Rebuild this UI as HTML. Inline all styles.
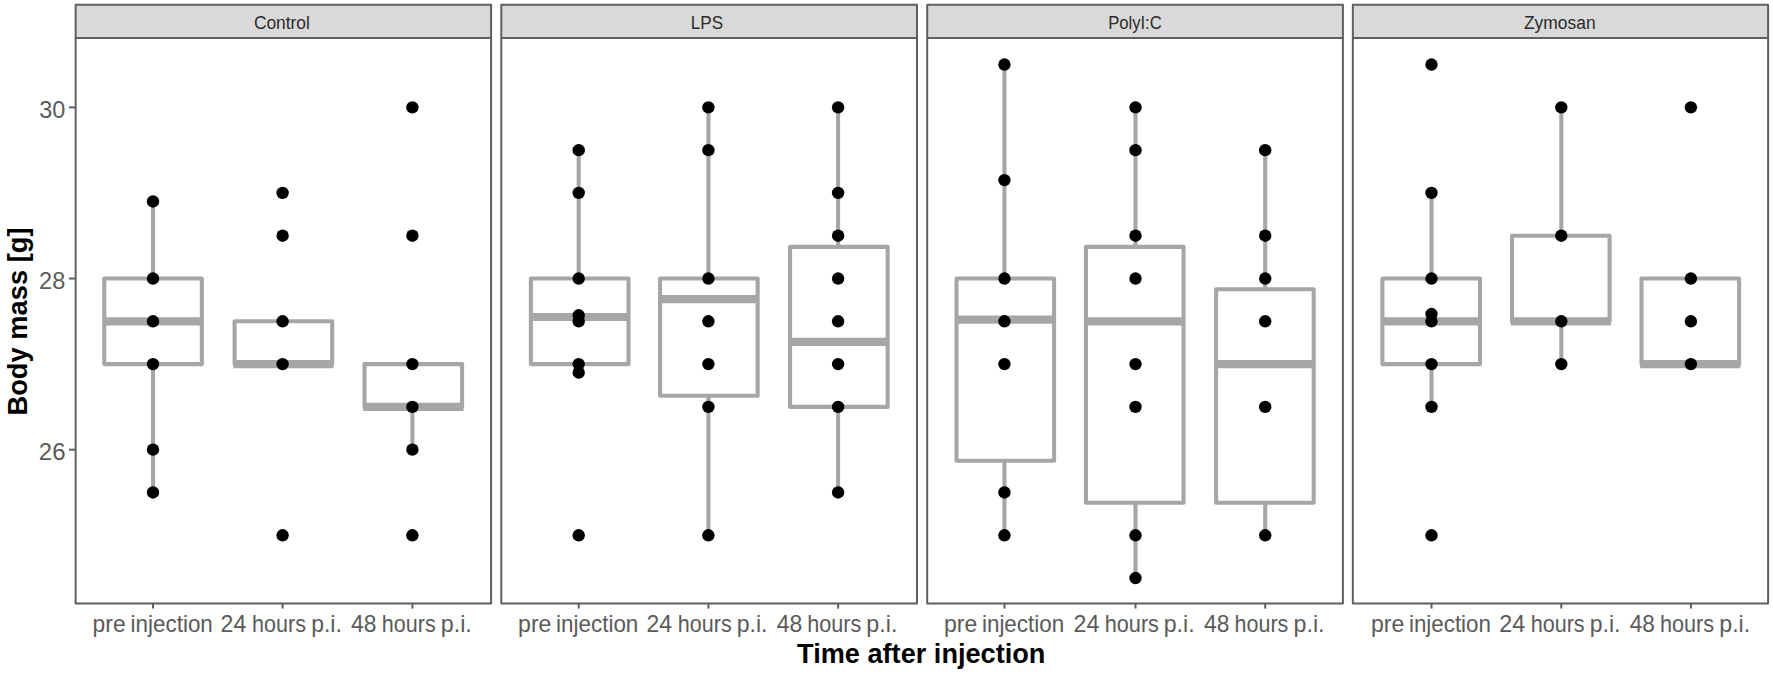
<!DOCTYPE html>
<html><head><meta charset="utf-8"><title>Body mass</title>
<style>html,body{margin:0;padding:0;background:#fff}svg{display:block}</style></head>
<body>
<svg width="1773" height="674" viewBox="0 0 1773 674" font-family="'Liberation Sans', Arial, sans-serif">
<rect width="1773" height="674" fill="#fff"/>
<rect x="75.65" y="4.8" width="415.45" height="33.20" fill="#d9d9d9" stroke="#5f5f5f" stroke-width="2.0" stroke-linejoin="round"/>
<text y="29.30" font-size="17.6" fill="#2b2b2b"><tspan x="253.91" textLength="55.92" lengthAdjust="spacingAndGlyphs">Control</tspan></text>
<line x1="153.00" x2="153.00" y1="201.48" y2="278.51" stroke="#a6a6a6" stroke-width="4.1"/>
<line x1="153.00" x2="153.00" y1="364.09" y2="492.46" stroke="#a6a6a6" stroke-width="4.1"/>
<rect x="104.25" y="278.51" width="97.60" height="85.58" fill="#fff" stroke="#a6a6a6" stroke-width="4.1" stroke-linejoin="round"/>
<line x1="102.95" x2="203.15" y1="321.30" y2="321.30" stroke="#a6a6a6" stroke-width="8.2"/>
<rect x="234.60" y="321.30" width="97.60" height="42.79" fill="#fff" stroke="#a6a6a6" stroke-width="4.1" stroke-linejoin="round"/>
<line x1="233.30" x2="333.50" y1="364.09" y2="364.09" stroke="#a6a6a6" stroke-width="8.2"/>
<line x1="412.40" x2="412.40" y1="406.88" y2="449.67" stroke="#a6a6a6" stroke-width="4.1"/>
<rect x="364.50" y="364.09" width="97.60" height="42.79" fill="#fff" stroke="#a6a6a6" stroke-width="4.1" stroke-linejoin="round"/>
<line x1="363.20" x2="463.40" y1="406.88" y2="406.88" stroke="#a6a6a6" stroke-width="8.2"/>
<circle cx="153.00" cy="201.48" r="6.2" fill="#000"/>
<circle cx="153.00" cy="278.51" r="6.2" fill="#000"/>
<circle cx="153.00" cy="321.30" r="6.2" fill="#000"/>
<circle cx="153.00" cy="364.09" r="6.2" fill="#000"/>
<circle cx="153.00" cy="449.67" r="6.2" fill="#000"/>
<circle cx="153.00" cy="492.46" r="6.2" fill="#000"/>
<circle cx="282.60" cy="192.92" r="6.2" fill="#000"/>
<circle cx="282.60" cy="235.71" r="6.2" fill="#000"/>
<circle cx="282.60" cy="321.30" r="6.2" fill="#000"/>
<circle cx="282.60" cy="364.09" r="6.2" fill="#000"/>
<circle cx="282.60" cy="535.26" r="6.2" fill="#000"/>
<circle cx="412.40" cy="107.34" r="6.2" fill="#000"/>
<circle cx="412.40" cy="235.71" r="6.2" fill="#000"/>
<circle cx="412.40" cy="364.09" r="6.2" fill="#000"/>
<circle cx="412.40" cy="406.88" r="6.2" fill="#000"/>
<circle cx="412.40" cy="449.67" r="6.2" fill="#000"/>
<circle cx="412.40" cy="535.26" r="6.2" fill="#000"/>
<rect x="75.65" y="38.0" width="415.45" height="565.55" fill="none" stroke="#5f5f5f" stroke-width="2.0" stroke-linejoin="round"/>
<line x1="153.00" x2="153.00" y1="603.55" y2="608.55" stroke="#5f5f5f" stroke-width="2.0"/>
<text y="632.40" font-size="24" fill="#5a5a5a"><tspan x="92.62" textLength="32.95" lengthAdjust="spacingAndGlyphs">pre</tspan> <tspan x="130.57" textLength="82.26" lengthAdjust="spacingAndGlyphs">injection</tspan></text>
<line x1="282.60" x2="282.60" y1="603.55" y2="608.55" stroke="#5f5f5f" stroke-width="2.0"/>
<text y="632.40" font-size="24" fill="#5a5a5a"><tspan x="220.58" textLength="25.65" lengthAdjust="spacingAndGlyphs">24</tspan> <tspan x="252.09" textLength="53.89" lengthAdjust="spacingAndGlyphs">hours</tspan> <tspan x="311.16" textLength="30.68" lengthAdjust="spacingAndGlyphs">p.i.</tspan></text>
<line x1="412.40" x2="412.40" y1="603.55" y2="608.55" stroke="#5f5f5f" stroke-width="2.0"/>
<text y="632.40" font-size="24" fill="#5a5a5a"><tspan x="351.04" textLength="25.40" lengthAdjust="spacingAndGlyphs">48</tspan> <tspan x="381.87" textLength="53.78" lengthAdjust="spacingAndGlyphs">hours</tspan> <tspan x="440.72" textLength="31.13" lengthAdjust="spacingAndGlyphs">p.i.</tspan></text>
<rect x="501.3" y="4.8" width="415.70" height="33.20" fill="#d9d9d9" stroke="#5f5f5f" stroke-width="2.0" stroke-linejoin="round"/>
<text y="29.30" font-size="17.6" fill="#2b2b2b"><tspan x="690.76" textLength="32.30" lengthAdjust="spacingAndGlyphs">LPS</tspan></text>
<line x1="578.70" x2="578.70" y1="150.13" y2="278.51" stroke="#a6a6a6" stroke-width="4.1"/>
<line x1="578.70" x2="578.70" y1="364.09" y2="372.65" stroke="#a6a6a6" stroke-width="4.1"/>
<rect x="530.90" y="278.51" width="97.60" height="85.58" fill="#fff" stroke="#a6a6a6" stroke-width="4.1" stroke-linejoin="round"/>
<line x1="529.60" x2="629.80" y1="317.02" y2="317.02" stroke="#a6a6a6" stroke-width="8.2"/>
<line x1="708.40" x2="708.40" y1="107.34" y2="278.51" stroke="#a6a6a6" stroke-width="4.1"/>
<line x1="708.40" x2="708.40" y1="395.75" y2="535.26" stroke="#a6a6a6" stroke-width="4.1"/>
<rect x="660.05" y="278.51" width="97.60" height="117.25" fill="#fff" stroke="#a6a6a6" stroke-width="4.1" stroke-linejoin="round"/>
<line x1="658.75" x2="758.95" y1="299.05" y2="299.05" stroke="#a6a6a6" stroke-width="8.2"/>
<line x1="838.10" x2="838.10" y1="107.34" y2="246.84" stroke="#a6a6a6" stroke-width="4.1"/>
<line x1="838.10" x2="838.10" y1="406.88" y2="492.46" stroke="#a6a6a6" stroke-width="4.1"/>
<rect x="790.05" y="246.84" width="97.60" height="160.04" fill="#fff" stroke="#a6a6a6" stroke-width="4.1" stroke-linejoin="round"/>
<line x1="788.75" x2="888.95" y1="341.84" y2="341.84" stroke="#a6a6a6" stroke-width="8.2"/>
<circle cx="578.70" cy="150.13" r="6.2" fill="#000"/>
<circle cx="578.70" cy="192.92" r="6.2" fill="#000"/>
<circle cx="578.70" cy="278.51" r="6.2" fill="#000"/>
<circle cx="578.70" cy="315.31" r="6.2" fill="#000"/>
<circle cx="578.70" cy="321.30" r="6.2" fill="#000"/>
<circle cx="578.70" cy="364.09" r="6.2" fill="#000"/>
<circle cx="578.70" cy="372.65" r="6.2" fill="#000"/>
<circle cx="578.70" cy="535.26" r="6.2" fill="#000"/>
<circle cx="708.40" cy="107.34" r="6.2" fill="#000"/>
<circle cx="708.40" cy="150.13" r="6.2" fill="#000"/>
<circle cx="708.40" cy="278.51" r="6.2" fill="#000"/>
<circle cx="708.40" cy="321.30" r="6.2" fill="#000"/>
<circle cx="708.40" cy="364.09" r="6.2" fill="#000"/>
<circle cx="708.40" cy="406.88" r="6.2" fill="#000"/>
<circle cx="708.40" cy="535.26" r="6.2" fill="#000"/>
<circle cx="838.10" cy="107.34" r="6.2" fill="#000"/>
<circle cx="838.10" cy="192.92" r="6.2" fill="#000"/>
<circle cx="838.10" cy="235.71" r="6.2" fill="#000"/>
<circle cx="838.10" cy="278.51" r="6.2" fill="#000"/>
<circle cx="838.10" cy="321.30" r="6.2" fill="#000"/>
<circle cx="838.10" cy="364.09" r="6.2" fill="#000"/>
<circle cx="838.10" cy="406.88" r="6.2" fill="#000"/>
<circle cx="838.10" cy="492.46" r="6.2" fill="#000"/>
<rect x="501.3" y="38.0" width="415.70" height="565.55" fill="none" stroke="#5f5f5f" stroke-width="2.0" stroke-linejoin="round"/>
<line x1="578.70" x2="578.70" y1="603.55" y2="608.55" stroke="#5f5f5f" stroke-width="2.0"/>
<text y="632.40" font-size="24" fill="#5a5a5a"><tspan x="518.10" textLength="33.30" lengthAdjust="spacingAndGlyphs">pre</tspan> <tspan x="556.10" textLength="82.23" lengthAdjust="spacingAndGlyphs">injection</tspan></text>
<line x1="708.40" x2="708.40" y1="603.55" y2="608.55" stroke="#5f5f5f" stroke-width="2.0"/>
<text y="632.40" font-size="24" fill="#5a5a5a"><tspan x="646.48" textLength="25.50" lengthAdjust="spacingAndGlyphs">24</tspan> <tspan x="677.87" textLength="53.78" lengthAdjust="spacingAndGlyphs">hours</tspan> <tspan x="736.77" textLength="30.66" lengthAdjust="spacingAndGlyphs">p.i.</tspan></text>
<line x1="838.10" x2="838.10" y1="603.55" y2="608.55" stroke="#5f5f5f" stroke-width="2.0"/>
<text y="632.40" font-size="24" fill="#5a5a5a"><tspan x="776.75" textLength="25.54" lengthAdjust="spacingAndGlyphs">48</tspan> <tspan x="807.33" textLength="53.98" lengthAdjust="spacingAndGlyphs">hours</tspan> <tspan x="866.35" textLength="31.03" lengthAdjust="spacingAndGlyphs">p.i.</tspan></text>
<rect x="927.2" y="4.8" width="415.70" height="33.20" fill="#d9d9d9" stroke="#5f5f5f" stroke-width="2.0" stroke-linejoin="round"/>
<text y="29.30" font-size="17.6" fill="#2b2b2b"><tspan x="1108.14" textLength="53.65" lengthAdjust="spacingAndGlyphs">PolyI:C</tspan></text>
<line x1="1004.45" x2="1004.45" y1="64.55" y2="278.51" stroke="#a6a6a6" stroke-width="4.1"/>
<line x1="1004.45" x2="1004.45" y1="460.80" y2="535.26" stroke="#a6a6a6" stroke-width="4.1"/>
<rect x="956.50" y="278.51" width="97.60" height="182.29" fill="#fff" stroke="#a6a6a6" stroke-width="4.1" stroke-linejoin="round"/>
<line x1="955.20" x2="1055.40" y1="319.59" y2="319.59" stroke="#a6a6a6" stroke-width="8.2"/>
<line x1="1135.50" x2="1135.50" y1="107.34" y2="246.84" stroke="#a6a6a6" stroke-width="4.1"/>
<line x1="1135.50" x2="1135.50" y1="502.73" y2="578.05" stroke="#a6a6a6" stroke-width="4.1"/>
<rect x="1085.95" y="246.84" width="97.60" height="255.89" fill="#fff" stroke="#a6a6a6" stroke-width="4.1" stroke-linejoin="round"/>
<line x1="1084.65" x2="1184.85" y1="321.30" y2="321.30" stroke="#a6a6a6" stroke-width="8.2"/>
<line x1="1265.20" x2="1265.20" y1="150.13" y2="289.20" stroke="#a6a6a6" stroke-width="4.1"/>
<line x1="1265.20" x2="1265.20" y1="502.73" y2="535.26" stroke="#a6a6a6" stroke-width="4.1"/>
<rect x="1216.10" y="289.20" width="97.60" height="213.53" fill="#fff" stroke="#a6a6a6" stroke-width="4.1" stroke-linejoin="round"/>
<line x1="1214.80" x2="1315.00" y1="364.09" y2="364.09" stroke="#a6a6a6" stroke-width="8.2"/>
<circle cx="1004.45" cy="64.55" r="6.2" fill="#000"/>
<circle cx="1004.45" cy="180.09" r="6.2" fill="#000"/>
<circle cx="1004.45" cy="278.51" r="6.2" fill="#000"/>
<circle cx="1004.45" cy="321.30" r="6.2" fill="#000"/>
<circle cx="1004.45" cy="364.09" r="6.2" fill="#000"/>
<circle cx="1004.45" cy="492.46" r="6.2" fill="#000"/>
<circle cx="1004.45" cy="535.26" r="6.2" fill="#000"/>
<circle cx="1135.50" cy="107.34" r="6.2" fill="#000"/>
<circle cx="1135.50" cy="150.13" r="6.2" fill="#000"/>
<circle cx="1135.50" cy="235.71" r="6.2" fill="#000"/>
<circle cx="1135.50" cy="278.51" r="6.2" fill="#000"/>
<circle cx="1135.50" cy="364.09" r="6.2" fill="#000"/>
<circle cx="1135.50" cy="406.88" r="6.2" fill="#000"/>
<circle cx="1135.50" cy="535.26" r="6.2" fill="#000"/>
<circle cx="1135.50" cy="578.05" r="6.2" fill="#000"/>
<circle cx="1265.20" cy="150.13" r="6.2" fill="#000"/>
<circle cx="1265.20" cy="235.71" r="6.2" fill="#000"/>
<circle cx="1265.20" cy="278.51" r="6.2" fill="#000"/>
<circle cx="1265.20" cy="321.30" r="6.2" fill="#000"/>
<circle cx="1265.20" cy="406.88" r="6.2" fill="#000"/>
<circle cx="1265.20" cy="535.26" r="6.2" fill="#000"/>
<rect x="927.2" y="38.0" width="415.70" height="565.55" fill="none" stroke="#5f5f5f" stroke-width="2.0" stroke-linejoin="round"/>
<line x1="1004.45" x2="1004.45" y1="603.55" y2="608.55" stroke="#5f5f5f" stroke-width="2.0"/>
<text y="632.40" font-size="24" fill="#5a5a5a"><tspan x="944.03" textLength="33.24" lengthAdjust="spacingAndGlyphs">pre</tspan> <tspan x="981.98" textLength="82.12" lengthAdjust="spacingAndGlyphs">injection</tspan></text>
<line x1="1135.50" x2="1135.50" y1="603.55" y2="608.55" stroke="#5f5f5f" stroke-width="2.0"/>
<text y="632.40" font-size="24" fill="#5a5a5a"><tspan x="1073.56" textLength="25.87" lengthAdjust="spacingAndGlyphs">24</tspan> <tspan x="1104.76" textLength="54.19" lengthAdjust="spacingAndGlyphs">hours</tspan> <tspan x="1163.75" textLength="30.84" lengthAdjust="spacingAndGlyphs">p.i.</tspan></text>
<line x1="1265.20" x2="1265.20" y1="603.55" y2="608.55" stroke="#5f5f5f" stroke-width="2.0"/>
<text y="632.40" font-size="24" fill="#5a5a5a"><tspan x="1204.03" textLength="25.39" lengthAdjust="spacingAndGlyphs">48</tspan> <tspan x="1234.60" textLength="53.74" lengthAdjust="spacingAndGlyphs">hours</tspan> <tspan x="1293.61" textLength="30.91" lengthAdjust="spacingAndGlyphs">p.i.</tspan></text>
<rect x="1352.85" y="4.8" width="415.25" height="33.20" fill="#d9d9d9" stroke="#5f5f5f" stroke-width="2.0" stroke-linejoin="round"/>
<text y="29.30" font-size="17.6" fill="#2b2b2b"><tspan x="1523.99" textLength="71.62" lengthAdjust="spacingAndGlyphs">Zymosan</tspan></text>
<line x1="1431.50" x2="1431.50" y1="192.92" y2="278.51" stroke="#a6a6a6" stroke-width="4.1"/>
<line x1="1431.50" x2="1431.50" y1="364.09" y2="406.88" stroke="#a6a6a6" stroke-width="4.1"/>
<rect x="1382.40" y="278.51" width="97.60" height="85.58" fill="#fff" stroke="#a6a6a6" stroke-width="4.1" stroke-linejoin="round"/>
<line x1="1381.10" x2="1481.30" y1="321.30" y2="321.30" stroke="#a6a6a6" stroke-width="8.2"/>
<line x1="1561.30" x2="1561.30" y1="107.34" y2="235.71" stroke="#a6a6a6" stroke-width="4.1"/>
<line x1="1561.30" x2="1561.30" y1="321.30" y2="364.09" stroke="#a6a6a6" stroke-width="4.1"/>
<rect x="1512.00" y="235.71" width="97.60" height="85.58" fill="#fff" stroke="#a6a6a6" stroke-width="4.1" stroke-linejoin="round"/>
<line x1="1510.70" x2="1610.90" y1="321.30" y2="321.30" stroke="#a6a6a6" stroke-width="8.2"/>
<rect x="1641.50" y="278.51" width="97.60" height="85.58" fill="#fff" stroke="#a6a6a6" stroke-width="4.1" stroke-linejoin="round"/>
<line x1="1640.20" x2="1740.40" y1="364.09" y2="364.09" stroke="#a6a6a6" stroke-width="8.2"/>
<circle cx="1431.50" cy="64.55" r="6.2" fill="#000"/>
<circle cx="1431.50" cy="192.92" r="6.2" fill="#000"/>
<circle cx="1431.50" cy="278.51" r="6.2" fill="#000"/>
<circle cx="1431.50" cy="314.02" r="6.2" fill="#000"/>
<circle cx="1431.50" cy="321.30" r="6.2" fill="#000"/>
<circle cx="1431.50" cy="364.09" r="6.2" fill="#000"/>
<circle cx="1431.50" cy="406.88" r="6.2" fill="#000"/>
<circle cx="1431.50" cy="535.26" r="6.2" fill="#000"/>
<circle cx="1561.30" cy="107.34" r="6.2" fill="#000"/>
<circle cx="1561.30" cy="235.71" r="6.2" fill="#000"/>
<circle cx="1561.30" cy="321.30" r="6.2" fill="#000"/>
<circle cx="1561.30" cy="364.09" r="6.2" fill="#000"/>
<circle cx="1690.90" cy="107.34" r="6.2" fill="#000"/>
<circle cx="1690.90" cy="278.51" r="6.2" fill="#000"/>
<circle cx="1690.90" cy="321.30" r="6.2" fill="#000"/>
<circle cx="1690.90" cy="364.09" r="6.2" fill="#000"/>
<rect x="1352.85" y="38.0" width="415.25" height="565.55" fill="none" stroke="#5f5f5f" stroke-width="2.0" stroke-linejoin="round"/>
<line x1="1431.50" x2="1431.50" y1="603.55" y2="608.55" stroke="#5f5f5f" stroke-width="2.0"/>
<text y="632.40" font-size="24" fill="#5a5a5a"><tspan x="1370.90" textLength="33.34" lengthAdjust="spacingAndGlyphs">pre</tspan> <tspan x="1408.97" textLength="81.97" lengthAdjust="spacingAndGlyphs">injection</tspan></text>
<line x1="1561.30" x2="1561.30" y1="603.55" y2="608.55" stroke="#5f5f5f" stroke-width="2.0"/>
<text y="632.40" font-size="24" fill="#5a5a5a"><tspan x="1499.31" textLength="25.86" lengthAdjust="spacingAndGlyphs">24</tspan> <tspan x="1530.69" textLength="53.98" lengthAdjust="spacingAndGlyphs">hours</tspan> <tspan x="1589.72" textLength="30.68" lengthAdjust="spacingAndGlyphs">p.i.</tspan></text>
<line x1="1690.90" x2="1690.90" y1="603.55" y2="608.55" stroke="#5f5f5f" stroke-width="2.0"/>
<text y="632.40" font-size="24" fill="#5a5a5a"><tspan x="1629.67" textLength="25.19" lengthAdjust="spacingAndGlyphs">48</tspan> <tspan x="1660.00" textLength="54.17" lengthAdjust="spacingAndGlyphs">hours</tspan> <tspan x="1719.29" textLength="30.92" lengthAdjust="spacingAndGlyphs">p.i.</tspan></text>
<line x1="69.0" x2="75.65" y1="449.67" y2="449.67" stroke="#5f5f5f" stroke-width="2.0"/>
<text y="460.37" font-size="24.4" fill="#5a5a5a"><tspan x="38.81" textLength="26.67" lengthAdjust="spacingAndGlyphs">26</tspan></text>
<line x1="69.0" x2="75.65" y1="278.51" y2="278.51" stroke="#5f5f5f" stroke-width="2.0"/>
<text y="289.21" font-size="24.4" fill="#5a5a5a"><tspan x="39.08" textLength="26.24" lengthAdjust="spacingAndGlyphs">28</tspan></text>
<line x1="69.0" x2="75.65" y1="107.34" y2="107.34" stroke="#5f5f5f" stroke-width="2.0"/>
<text y="118.04" font-size="24.4" fill="#5a5a5a"><tspan x="39.22" textLength="26.14" lengthAdjust="spacingAndGlyphs">30</tspan></text>
<text y="663.20" font-size="26.8" font-weight="bold" fill="#000"><tspan x="797.10" textLength="248.31" lengthAdjust="spacingAndGlyphs">Time after injection</tspan></text>
<text transform="translate(26.7,321.5) rotate(-90)" font-size="27.3" font-weight="bold" fill="#000" text-anchor="middle">Body mass [g]</text>
</svg>
</body></html>
